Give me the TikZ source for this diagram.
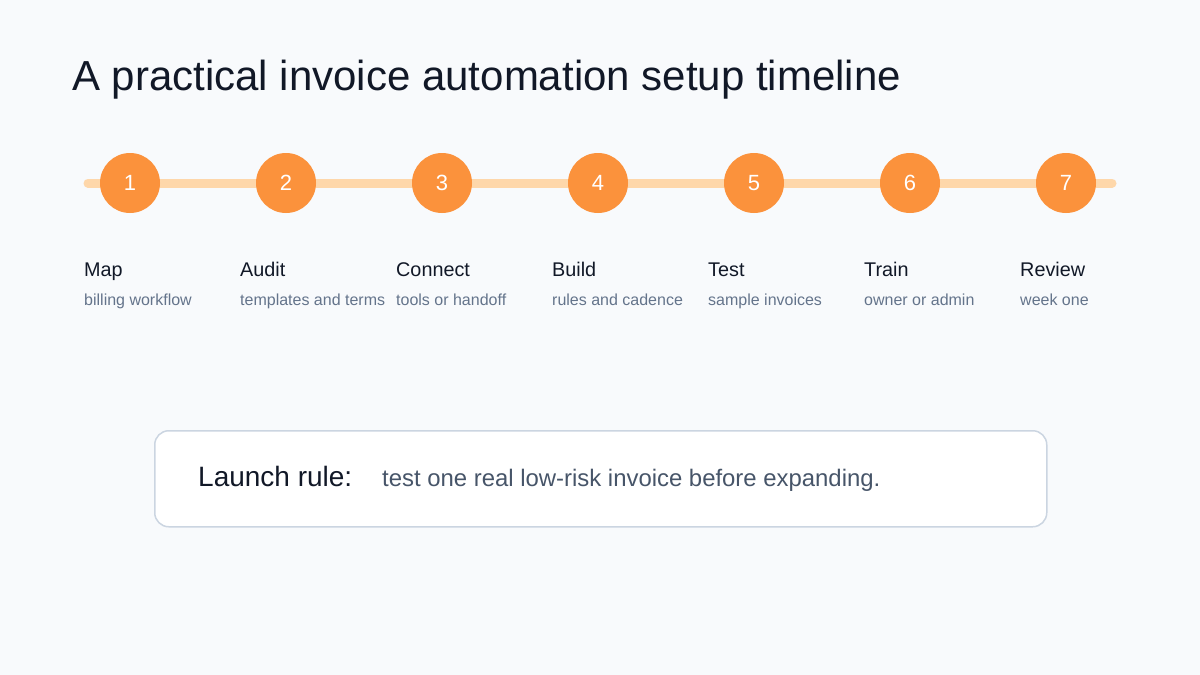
\documentclass[tikz,border=0pt]{standalone}
\usepackage{fontspec}
\setmainfont{Liberation Sans}
\definecolor{bg}{HTML}{F8FAFC}
\definecolor{dark}{HTML}{111827}
\definecolor{sub}{HTML}{64748B}
\definecolor{track}{HTML}{FED7AA}
\definecolor{dot}{HTML}{FB923C}
\definecolor{bord}{HTML}{CBD5E1}
\definecolor{body}{HTML}{475569}
\begin{document}
\begin{tikzpicture}[x=1pt,y=-1pt,
  stepdot/.style={circle,fill=dot,minimum size=60pt,inner sep=0,text=white,font=\fontsize{22}{26}\selectfont},
  lab/.style={anchor=base west,inner sep=0,text=dark,font=\fontsize{19.8}{24}\selectfont},
  sublab/.style={anchor=base west,inner sep=0,text=sub,font=\fontsize{16}{19}\selectfont}]
\fill[bg] (0,0) rectangle (1200,675);
\useasboundingbox (0,0) rectangle (1200,675);
\node[anchor=base west,inner sep=0,text=dark,font=\fontsize{42}{48}\selectfont] (title) at (72,90) {A practical invoice automation setup timeline};
\coordinate (ts) at (88,183);
\coordinate (te) at (1112,183);
\draw[track,line width=9pt,line cap=round] (ts) -- (te);
\foreach \i/\n/\s [count=\k from 0] in {1/Map/billing workflow,2/Audit/templates and terms,3/Connect/tools or handoff,4/Build/rules and cadence,5/Test/sample invoices,6/Train/owner or admin,7/Review/week one}{
  \node[stepdot] (s\i) at (130+156*\k,183) {\i};
  \node[lab] (l\i) at (84+156*\k,276) {\n};
  \node[sublab] (d\i) at (84+156*\k,305) {\s};
}
\node[draw=bord,line width=1.5pt,fill=white,rounded corners=14pt,minimum width=892pt,minimum height=96pt,anchor=north west] (box) at (154,430) {};
\node[anchor=base west,inner sep=0,text=dark,font=\fontsize{28}{32}\selectfont] (lr) at (198,486) {Launch rule:};
\node[anchor=base west,inner sep=0,text=body,font=\fontsize{23.9}{28}\selectfont] (lt) at (382,486) {test one real low-risk invoice before expanding.};
\end{tikzpicture}
\end{document}
